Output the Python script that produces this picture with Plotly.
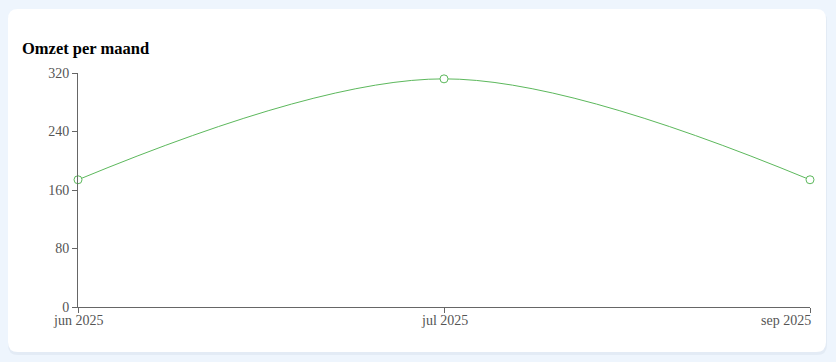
import plotly.graph_objects as go

months = ["jun 2025", "jul 2025", "sep 2025"]
revenue = [174, 312, 174]
y_ticks = [0, 80, 160, 240, 320]
title_text = "Omzet per maand"

W, H = 836, 362
ML, MR, MT, MB = 78, 26, 73, 55
PW, PH = W - ML - MR, H - MT - MB

def px_x(x):
    return (x - ML) / PW

def px_y(y):
    return (H - MB - y) / PH

def rounded_rect(x0, y0, x1, y1, r):
    def P(x, y):
        return f"{px_x(x):.5f},{px_y(y):.5f}"
    return (
        f"M {P(x0 + r, y0)} L {P(x1 - r, y0)} Q {P(x1, y0)} {P(x1, y0 + r)} "
        f"L {P(x1, y1 - r)} Q {P(x1, y1)} {P(x1 - r, y1)} "
        f"L {P(x0 + r, y1)} Q {P(x0, y1)} {P(x0, y1 - r)} "
        f"L {P(x0, y0 + r)} Q {P(x0, y0)} {P(x0 + r, y0)} Z"
    )

GREEN = "#5cb85c"
AXIS = "#666666"
TXT = "#555555"
FONT = "Liberation Serif, Times New Roman, serif"

fig = go.Figure()
fig.add_trace(go.Scatter(
    x=months, y=revenue, mode="lines+markers",
    line=dict(color=GREEN, width=1, shape="spline", smoothing=1.0),
    marker=dict(size=8, color="white", line=dict(color=GREEN, width=1)),
    cliponaxis=False, hoverinfo="x+y",
))

shapes = [
    dict(type="path", xref="paper", yref="paper", layer="below",
         path=rounded_rect(8, 11, 827, 355, 10),
         fillcolor="#e3ebf5", line=dict(width=0)),
    dict(type="path", xref="paper", yref="paper", layer="below",
         path=rounded_rect(8, 9, 826, 352, 10),
         fillcolor="white", line=dict(width=0)),
]

annotations = [
    dict(text=f"<b>{title_text}</b>", xref="paper", yref="paper",
         x=px_x(20), y=px_y(49), xanchor="left", yanchor="middle",
         showarrow=False, font=dict(family=FONT, size=16.5, color="black")),
]
for i, m in enumerate(months):
    anchor = "center"
    if i == len(months) - 1:
        anchor = "right"
    annotations.append(dict(
        text=m, x=m, xref="x", y=px_y(310.5), yref="paper",
        xanchor=anchor, yanchor="top", showarrow=False,
        xshift=3 if anchor == "right" else 0,
        font=dict(family=FONT, size=14, color=TXT)))

fig.update_layout(
    width=W, height=H,
    margin=dict(l=ML, r=MR, t=MT, b=MB),
    paper_bgcolor="#eef5fd", plot_bgcolor="rgba(0,0,0,0)",
    showlegend=False,
    shapes=shapes, annotations=annotations,
    xaxis=dict(type="category", categoryorder="array", categoryarray=months,
               range=[0, len(months) - 1], showgrid=False, zeroline=False,
               showline=True, linecolor=AXIS, linewidth=1,
               ticks="outside", ticklen=5, tickcolor=AXIS,
               showticklabels=False, fixedrange=True),
    yaxis=dict(range=[0, 320], tickvals=y_ticks, showgrid=False, zeroline=False,
               showline=True, linecolor=AXIS, linewidth=1,
               ticks="outside", ticklen=5, tickcolor=AXIS,
               tickfont=dict(family=FONT, size=14, color=TXT), fixedrange=True),
)

fig.write_html("out.html", config=dict(displayModeBar=False))
